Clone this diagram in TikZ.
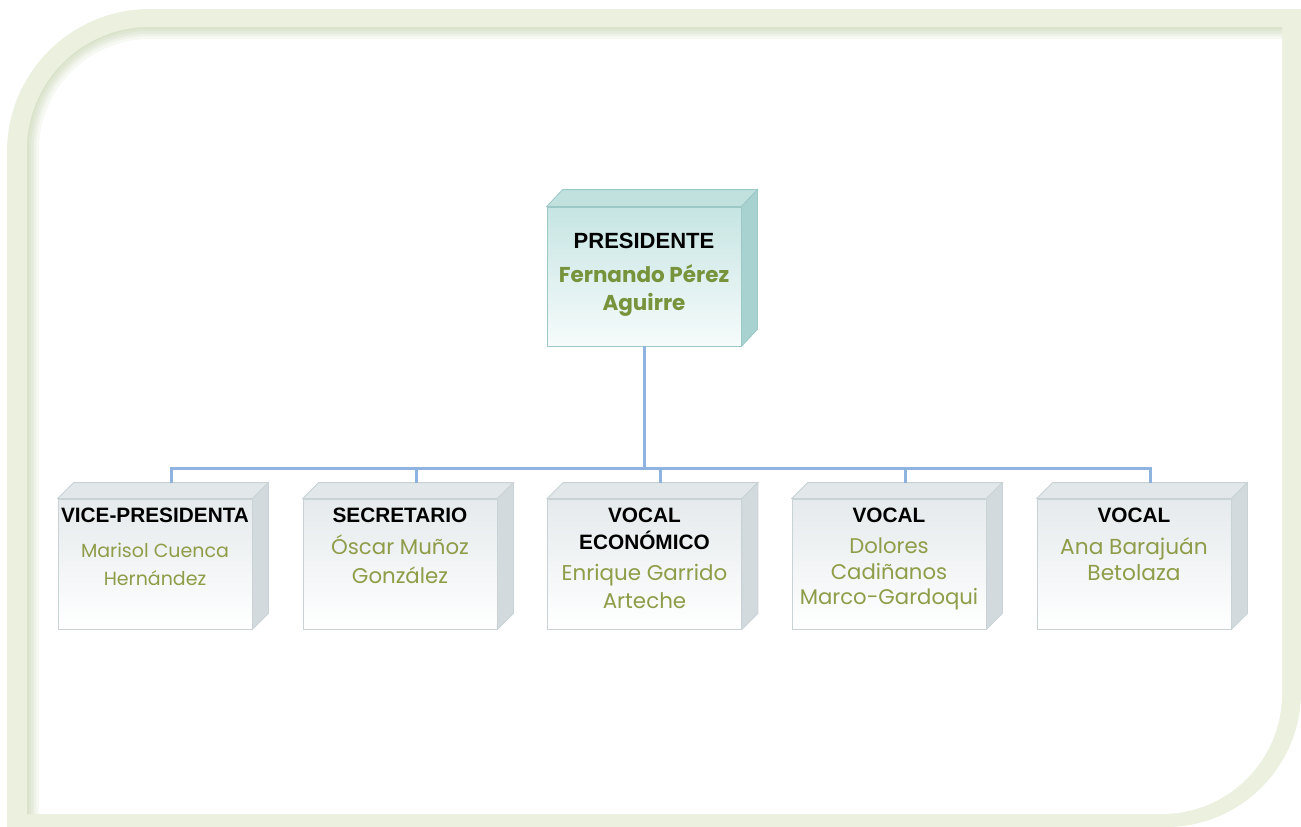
\documentclass[tikz,border=0pt]{standalone}
\usepackage{fontspec}
\setmainfont{Liberation Sans}
\newfontfamily\namefont{Poppins}
\usetikzlibrary{positioning}
\definecolor{frameGreen}{HTML}{EBF0DF}
\definecolor{shadeGreen}{HTML}{9FB679}
\definecolor{linkBlue}{HTML}{8EB3E0}
\definecolor{nameGreen}{HTML}{8F9C48}
\definecolor{chiefGreen}{HTML}{77933C}
\definecolor{chiefTop}{HTML}{C6E5E3}
\definecolor{chiefBottom}{HTML}{F6FBFB}
\definecolor{chiefFace}{HTML}{C1E1DF}
\definecolor{chiefSide}{HTML}{A8D2D0}
\definecolor{chiefEdge}{HTML}{9CC8C6}
\definecolor{memberTop}{HTML}{E5EAEC}
\definecolor{memberFace}{HTML}{E2E7E9}
\definecolor{memberSide}{HTML}{D3DADD}
\definecolor{memberEdge}{HTML}{C9D2D5}

\begin{document}
\begin{tikzpicture}[x=1pt,y=-1pt
        ,link/.style = {draw=linkBlue, line width=3pt}
        ,member/.style = {draw=memberEdge, line width=0.8pt, top color=memberTop, bottom color=white, minimum width=194pt, minimum height=130pt, inner sep=0pt}
        ,chief/.style = {member, draw=chiefEdge, top color=chiefTop, bottom color=chiefBottom, minimum height=139pt}
        ,title/.style = {font=\bfseries\fontsize{20.8}{27}\selectfont, align=center, inner sep=0pt, anchor=north}
        ,names/.style = {text=nameGreen, align=center, inner sep=0pt}
      ]
      \useasboundingbox (0,0) rectangle (1301,827);

      % frame
      \fill[frameGreen] (7,827) -- (7,152) .. controls (7,73) and (71,9) .. (150,9) -- (1301,9)
        -- (1301,692) .. controls (1301,766) and (1241,827) .. (1166,827) -- cycle;
      \fill[white] (27,814) -- (27,150) .. controls (27,82) and (82,27) .. (150,27) -- (1282,27)
        -- (1282,694) .. controls (1282,760) and (1228,814) .. (1162,814) -- cycle;
      \begin{scope}
        \clip (27,814) -- (27,150) .. controls (27,82) and (82,27) .. (150,27) -- (1282,27)
          -- (1282,694) .. controls (1282,760) and (1228,814) .. (1162,814) -- cycle;
        \foreach \w in {3,8,13,18,24}
          \draw[shadeGreen, opacity=0.09, line width=\w pt] (27,830) -- (27,150) .. controls (27,82) and (82,27) .. (150,27) -- (1290,27);
      \end{scope}

      % president
      \node[chief] (pres) at (644,276.5) {};
      \fill[chiefFace, draw=chiefEdge, line width=0.8pt] (pres.north west) -- ([shift={(16,-17)}]pres.north west)
        -- ([shift={(16,-17)}]pres.north east) -- (pres.north east) -- cycle;
      \fill[chiefSide, draw=chiefEdge, line width=0.8pt] (pres.north east) -- ([shift={(16,-17)}]pres.north east)
        -- ([shift={(16,-17)}]pres.south east) -- (pres.south east) -- cycle;
      \node[title, font=\bfseries\fontsize{22}{27}\selectfont] (ptitle) at ([yshift=-26pt]pres.north) {PRESIDENTE};
      \node[names, below=16pt of ptitle, text=chiefGreen, font=\namefont\bfseries\fontsize{21.5}{28}\selectfont] (pname) {Fernando Pérez\\Aguirre};

      % members
      \foreach \i/\x/\role/\who/\sz/\ls/\gap in {
          0/155/{VICE-PRESIDENTA}/{Marisol Cuenca\\Hernández}/19/28/20,
          1/400/{SECRETARIO}/{Óscar Muñoz\\González}/21.3/29/12,
          2/644.5/{VOCAL\\ECONÓMICO}/{Enrique Garrido\\Arteche}/21.4/28/14,
          3/889/{VOCAL}/{Dolores\\Cadiñanos\\Marco-Gardoqui}/21.2/25.5/15,
          4/1134/{VOCAL}/{Ana Barajuán\\Betolaza}/21.7/26/15}
      {
        \node[member] (c\i) at (\x,564) {};
        \fill[memberFace, draw=memberEdge, line width=0.8pt] (c\i.north west) -- ([shift={(16,-16)}]c\i.north west)
          -- ([shift={(16,-16)}]c\i.north east) -- (c\i.north east) -- cycle;
        \fill[memberSide, draw=memberEdge, line width=0.8pt] (c\i.north east) -- ([shift={(16,-16)}]c\i.north east)
          -- ([shift={(16,-16)}]c\i.south east) -- (c\i.south east) -- cycle;
        \node[title] (t\i) at ([yshift=-9pt]c\i.north) {\role};
        \node[names, below=\gap pt of t\i, font=\namefont\fontsize{\sz}{\ls}\selectfont] (n\i) {\who};
        \draw[link] (pres.south) -- ++(0,122) -| ([shift={(16,-16)}]c\i.north);
      }
    \end{tikzpicture}
\end{document}
